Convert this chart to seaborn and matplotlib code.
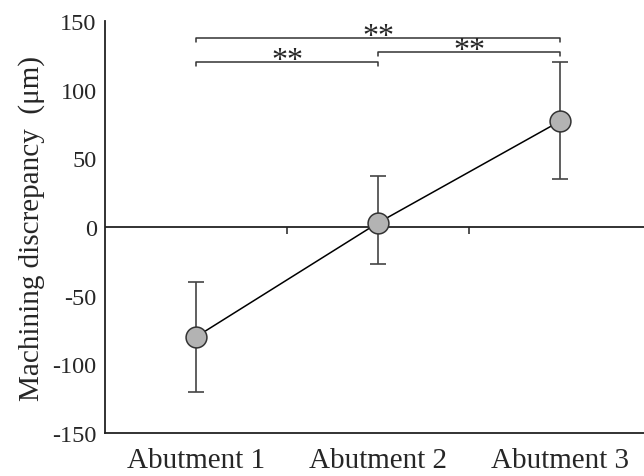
import numpy as np
import pandas as pd
import matplotlib
matplotlib.use("Agg")
import matplotlib.pyplot as plt
import seaborn as sns

# values
abutments = ["Abutment 1", "Abutment 2", "Abutment 3"]
mean_disc = [-80, 3, 77]
err_low = [-120, -27, 35]
err_high = [-40, 37, 120]

# significance brackets: (left idx, right idx, bracket height)
pairs = [(0, 1), (0, 2), (1, 2)]
bracket_y = [120, 137.5, 127.5]
bracket_text = ["**", "**", "**"]

sns.set_theme(style="white")
plt.rcParams["font.family"] = ["Liberation Serif", "DejaVu Serif"]
plt.rcParams["axes.unicode_minus"] = False

df = pd.DataFrame({"abutment": abutments, "mean": mean_disc})
x = np.arange(len(abutments))

fig = plt.figure(figsize=(6.44, 4.77), dpi=100)
ax = fig.add_axes([0.163, 0.090, 0.845, 0.864])

# error bars (whiskers)
yerr = [np.array(mean_disc) - np.array(err_low), np.array(err_high) - np.array(mean_disc)]
ax.errorbar(x, mean_disc, yerr=yerr, fmt="none", ecolor="#444444",
            elinewidth=1.2, capsize=6, capthick=1.2, zorder=2)

sns.lineplot(data=df, x=x, y="mean", ax=ax, color="black", linewidth=1.1,
             marker="o", markersize=15, markerfacecolor="#b3b3b3",
             markeredgecolor="#333333", markeredgewidth=1.1, zorder=3)

# zero line with small boundary ticks
ax.axhline(0, color="#222222", linewidth=1.3, zorder=1)
ax.vlines([0.5, 1.5], -5, 0, color="#222222", linewidth=1.1)

# significance brackets
for (i, j), h, t in zip(pairs, bracket_y, bracket_text):
    ax.plot([x[i], x[i], x[j], x[j]], [h - 3, h, h, h - 3], color="#333333", linewidth=1.1)
    ax.text((x[i] + x[j]) / 2, h - 4.5, t, ha="center", va="baseline", fontsize=23)

ax.set_xlim(-0.5, 2.49)
ax.set_ylim(-150, 150)
ax.set_yticks([-150, -100, -50, 0, 50, 100, 150])
ax.set_xticks(x)
ax.set_xticklabels(abutments)
ax.set_xlabel("")
ax.set_ylabel("Machining discrepancy  (\u03bcm)", fontsize=21, labelpad=5)

ax.tick_params(axis="y", direction="in", length=6, width=1.1, labelsize=17.5, pad=6)
ax.tick_params(axis="x", length=0, labelsize=21, pad=10)

for side in ["top", "right"]:
    ax.spines[side].set_visible(False)
for side in ["left", "bottom"]:
    ax.spines[side].set_color("#222222")
    ax.spines[side].set_linewidth(1.3)

fig.savefig("out.png", dpi=100)
